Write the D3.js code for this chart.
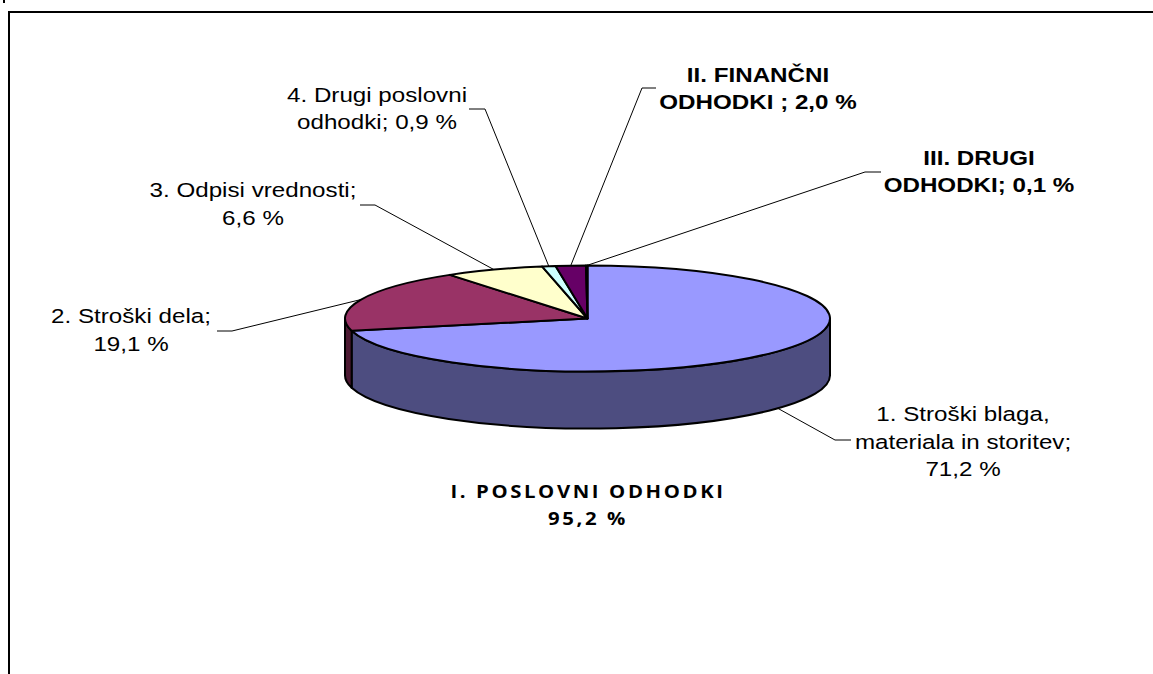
<!DOCTYPE html>
<html>
<head>
<meta charset="utf-8">
<script src="https://cdn.jsdelivr.net/npm/d3@7"></script>
<style>
  html, body { margin: 0; padding: 0; background: #fff; overflow: hidden; }
  text { font-family: "Liberation Sans", Arial, sans-serif; fill: #000; }
</style>
</head>
<body>
<div id="chart"></div>
<script>
// data
const categories = ["1. Stroški blaga, materiala in storitev", "2. Stroški dela", "3. Odpisi vrednosti",
                    "4. Drugi poslovni odhodki", "II. FINANČNI ODHODKI", "III. DRUGI ODHODKI"];
const values = [71.2, 19.1, 6.6, 0.9, 2.0, 0.1];
const labelLines = [
  ["1. Stroški blaga,", "materiala in storitev;", "71,2 %"],
  ["2. Stroški dela;", "19,1 %"],
  ["3. Odpisi vrednosti;", "6,6 %"],
  ["4. Drugi poslovni", "odhodki; 0,9 %"],
  ["II. FINANČNI", "ODHODKI ; 2,0 %"],
  ["III. DRUGI", "ODHODKI; 0,1 %"]
];
const groupLines = ["I. POSLOVNI ODHODKI", "95,2 %"];

// styles and layout
const topColors = ["#9999ff", "#993366", "#ffffcc", "#ccffff", "#660066", "#ff8080"];
const wallColors = ["#4d4d80", "#4d1a33", "#808066", "#668080", "#330033", "#804040"];
const labelPos = [
  {x: 963, y: 421.5, bold: false},
  {x: 131, y: 323.5, bold: false},
  {x: 253, y: 197.5, bold: false},
  {x: 377, y: 102, bold: false},
  {x: 758, y: 82, bold: true},
  {x: 979, y: 165, bold: true}
];
// elbow and end of each leader line
const leaderPos = [
  {ex: 835, ey: 440, tx: 851},
  {ex: 232, ey: 331, tx: 217},
  {ex: 375, ey: 205, tx: 360},
  {ex: 485, ey: 109, tx: 469},
  {ex: 642, ey: 88, tx: 656},
  {ex: 865, ey: 172, tx: 881}
];

const width = 1153, height = 674;
const cx = 587.5, cy = 318.5, rx = 242.5, ry = 53, depth = 57;

const svg = d3.select("#chart").append("svg")
    .attr("width", width)
    .attr("height", height)
    .style("display", "block");

// frame, cut off by the page on the right and at the bottom
svg.append("path")
    .attr("d", d3.line()([[9, height + 2], [9, 12], [width + 2, 12]]))
    .attr("fill", "none")
    .attr("stroke", "#000")
    .attr("stroke-width", 2);
svg.append("line")
    .attr("x1", 4).attr("x2", 4)
    .attr("y1", 0).attr("y2", 3)
    .attr("stroke", "#000")
    .attr("stroke-width", 2);

const pie = d3.pie().sort(null).value(d => d);
const arcs = pie(values);

function rimPoint(angle, drop) {
  return [cx + rx * Math.sin(angle), cy - ry * Math.cos(angle) + (drop || 0)];
}

// the side wall shows only on the front half of the ellipse
const wall = svg.append("g");
arcs.forEach((d, i) => {
  const a0 = Math.max(d.startAngle, Math.PI / 2);
  const a1 = Math.min(d.endAngle, Math.PI * 3 / 2);
  if (a1 <= a0) return;
  const p0 = rimPoint(a0), p1 = rimPoint(a1);
  const q0 = rimPoint(a0, depth), q1 = rimPoint(a1, depth);
  wall.append("path")
      .attr("d", `M${p0}A${rx},${ry} 0 0 1 ${p1}L${q1}A${rx},${ry} 0 0 0 ${q0}Z`)
      .attr("fill", wallColors[i])
      .attr("stroke", "#000")
      .attr("stroke-width", 2)
      .attr("stroke-linejoin", "round");
});

// top face: a circular pie squashed to the ellipse
const arc = d3.arc().innerRadius(0).outerRadius(rx);
svg.append("g")
    .attr("transform", `translate(${cx},${cy}) scale(1,${ry / rx})`)
  .selectAll("path")
  .data(arcs)
  .enter()
  .append("path")
    .attr("d", arc)
    .attr("fill", (d, i) => topColors[i])
    .attr("stroke", "#000")
    .attr("stroke-width", 2)
    .attr("stroke-linejoin", "round")
    .attr("vector-effect", "non-scaling-stroke");

// leader lines start at the middle of each slice's rim
arcs.forEach((d, i) => {
  const mid = (d.startAngle + d.endAngle) / 2;
  const front = mid > Math.PI / 2 && mid < Math.PI * 3 / 2;
  const start = rimPoint(mid, front ? depth : 0);
  const l = leaderPos[i];
  svg.append("path")
      .attr("d", d3.line()([start, [l.ex, l.ey], [l.tx, l.ey]]))
      .attr("fill", "none")
      .attr("stroke", "#000")
      .attr("stroke-width", 1);
});

// slice labels, the reference text is stretched sideways
labelLines.forEach((lines, i) => {
  const p = labelPos[i];
  const t = svg.append("text")
      .attr("transform", `translate(${p.x},0) scale(1.24,1)`)
      .attr("text-anchor", "middle")
      .attr("font-size", "19.5px")
      .attr("font-weight", p.bold ? "bold" : "normal");
  lines.forEach((s, j) => {
    t.append("tspan").attr("x", 0).attr("y", p.y + j * 27.5).text(s);
  });
});

// group caption under the pie
groupLines.forEach((s, j) => {
  svg.append("text")
      .attr("transform", `translate(588,${498 + j * 27}) scale(1.195,1)`)
      .attr("text-anchor", "middle")
      .attr("font-size", "17px")
      .attr("font-weight", "bold")
      .attr("letter-spacing", "2.2px")
      .style("font-family", "'Open Sans', sans-serif")
      .text(s);
});
</script>
</body>
</html>
